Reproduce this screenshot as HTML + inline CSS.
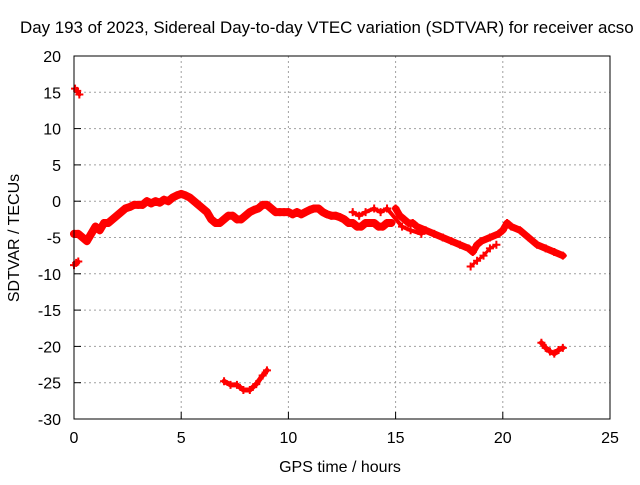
<!DOCTYPE html>
<html><head><meta charset="utf-8"><style>
body{margin:0;background:#fff;font-family:"Liberation Sans",sans-serif}
svg text{font-family:"Liberation Sans",sans-serif;font-size:16px;fill:#000}
</style></head><body>
<svg id="c" width="640" height="480">
<text x="20" y="33" text-anchor="start" style="font-size:16.9px">Day 193 of 2023, Sidereal Day-to-day VTEC variation (SDTVAR) for receiver acso</text>
<text x="340" y="472" text-anchor="middle">GPS time / hours</text>
<text transform="translate(19,238) rotate(-90)" text-anchor="middle">SDTVAR / TECUs</text>
<g id="grid"></g><g id="marks"></g>
<rect x="74" y="56" width="536" height="363" fill="none" stroke="#000"/>
</svg>
<script>
const xTicks=[0,5,10,15,20,25];
const yTicks=[20,15,10,5,0,-5,-10,-15,-20,-25,-30];
const mainT=[0,0.2,0.4,0.6,0.8,1.0,1.2,1.4,1.6,1.8,2.0,2.2,2.4,2.6,2.8,3.0,3.2,3.4,3.6,3.8,4.0,4.2,4.4,4.6,4.8,5.0,5.2,5.4,5.6,5.8,6.0,6.2,6.4,6.6,6.8,7.0,7.2,7.4,7.6,7.8,8.0,8.2,8.4,8.6,8.8,9.0,9.2,9.4,9.6,9.8,10,10.2,10.4,10.6,10.8,11,11.2,11.4,11.6,11.8,12,12.2,12.4,12.6,12.8,13,13.2,13.4,13.6,13.8,14,14.2,14.4,14.6,14.8];
const mainV=[-4.5,-4.5,-5,-5.5,-4.5,-3.5,-4,-3,-3,-2.5,-2,-1.5,-1,-0.8,-0.5,-0.5,-0.5,0,-0.3,0,-0.2,0.2,0,0.5,0.8,1,0.8,0.5,0,-0.5,-1,-1.5,-2.5,-3,-3,-2.5,-2,-2,-2.5,-2.5,-2,-1.5,-1.2,-1,-0.5,-0.5,-1,-1.5,-1.5,-1.5,-1.5,-1.8,-1.5,-1.8,-1.5,-1.2,-1,-1,-1.5,-1.8,-2,-2,-2.2,-2.5,-3,-3,-3.5,-3.5,-3,-3,-3,-3.5,-3.5,-3,-3];
const lateT=[15,15.2,15.4,15.6,15.8,16,16.4,16.8,17.2,17.6,18,18.4,18.6,18.8,19,19.4,19.8,20,20.2,20.4,20.8,21.2,21.6,22,22.4,22.8];
const lateV=[-1,-2,-2.5,-3,-3,-3.5,-4,-4.5,-5,-5.5,-6,-6.5,-7,-6,-5.5,-5,-4.5,-4,-3,-3.5,-4,-5,-6,-6.5,-7,-7.5];
const upT=[13,13.3,13.6,14,14.3,14.6,15.3,15.7,16.2];
const upV=[-1.5,-2,-1.5,-1,-1.5,-1,-3.5,-4,-4.5];
const rampT=[18.5,18.8,19.1,19.4,19.7];
const rampV=[-9,-8.2,-7.5,-6.5,-6];
const topT=[0.05,0.15,0.25];const topV=[15.5,15.2,14.7];
const lowT=[0,0.1,0.2];const lowV=[-8.8,-8.5,-8.3];
const dipT=[7,7.3,7.6,7.9,8.2,8.5,8.8,9];const dipV=[-24.8,-25.3,-25.3,-26,-26,-25.2,-24,-23.3];
const endT=[21.8,22,22.2,22.4,22.6,22.8];const endV=[-19.5,-20.2,-20.7,-21,-20.5,-20.2];
const X=v=>74+v*536/25, Y=v=>56+(20-v)*363/50;
const NS="http://www.w3.org/2000/svg";
const g=document.getElementById('grid'), m=document.getElementById('marks');
function el(t,a,p){const e=document.createElementNS(NS,t);for(const k in a)e.setAttribute(k,a[k]);p.appendChild(e);return e;}
xTicks.forEach(t=>{
 const l=el('line',{x1:X(t),x2:X(t),y1:56,y2:419,stroke:'#a0a0a0','stroke-dasharray':'2,3'},g);
 
 
 el('line',{x1:X(t),x2:X(t),y1:419,y2:412,stroke:'#000'},g);
 const tx=el('text',{x:X(t),y:443,'text-anchor':'middle'},g);tx.textContent=t;
 
 
});
yTicks.forEach(t=>{
 const l=el('line',{x1:74,x2:610,y1:Y(t),y2:Y(t),stroke:'#a0a0a0','stroke-dasharray':'2,3'},g);
 
 
 el('line',{x1:74,x2:81,y1:Y(t),y2:Y(t),stroke:'#000'},g);
 const tx=el('text',{x:61,y:Y(t)+6,'text-anchor':'end'},g);tx.textContent=t;
 
 
});
function series(T,V,name,w){
 const pts=T.map((t,i)=>X(t)+','+Y(V[i])).join(' ');
 const pl=el('polyline',{points:pts,fill:'none',stroke:'#f00','stroke-width':w,'stroke-linejoin':'round','stroke-linecap':'round'},m);
 
 
 T.forEach((t,i)=>{
  const p=el('path',{d:`M${X(t)-4},${Y(V[i])}h8M${X(t)},${Y(V[i])-4}v8`,stroke:'#f00','stroke-width':2},m);
  
  
 });
}
series(mainT,mainV,'main-series',8);
series(lateT,lateV,'late-series',7);
series(upT,upV,'upper-series',4);
series(rampT,rampV,'ramp-series',3);
series(topT,topV,'top-series',4);
series(lowT,lowV,'low-series',4);
series(dipT,dipV,'dip-series',5);
series(endT,endV,'end-series',5);
</script>
</body></html>
